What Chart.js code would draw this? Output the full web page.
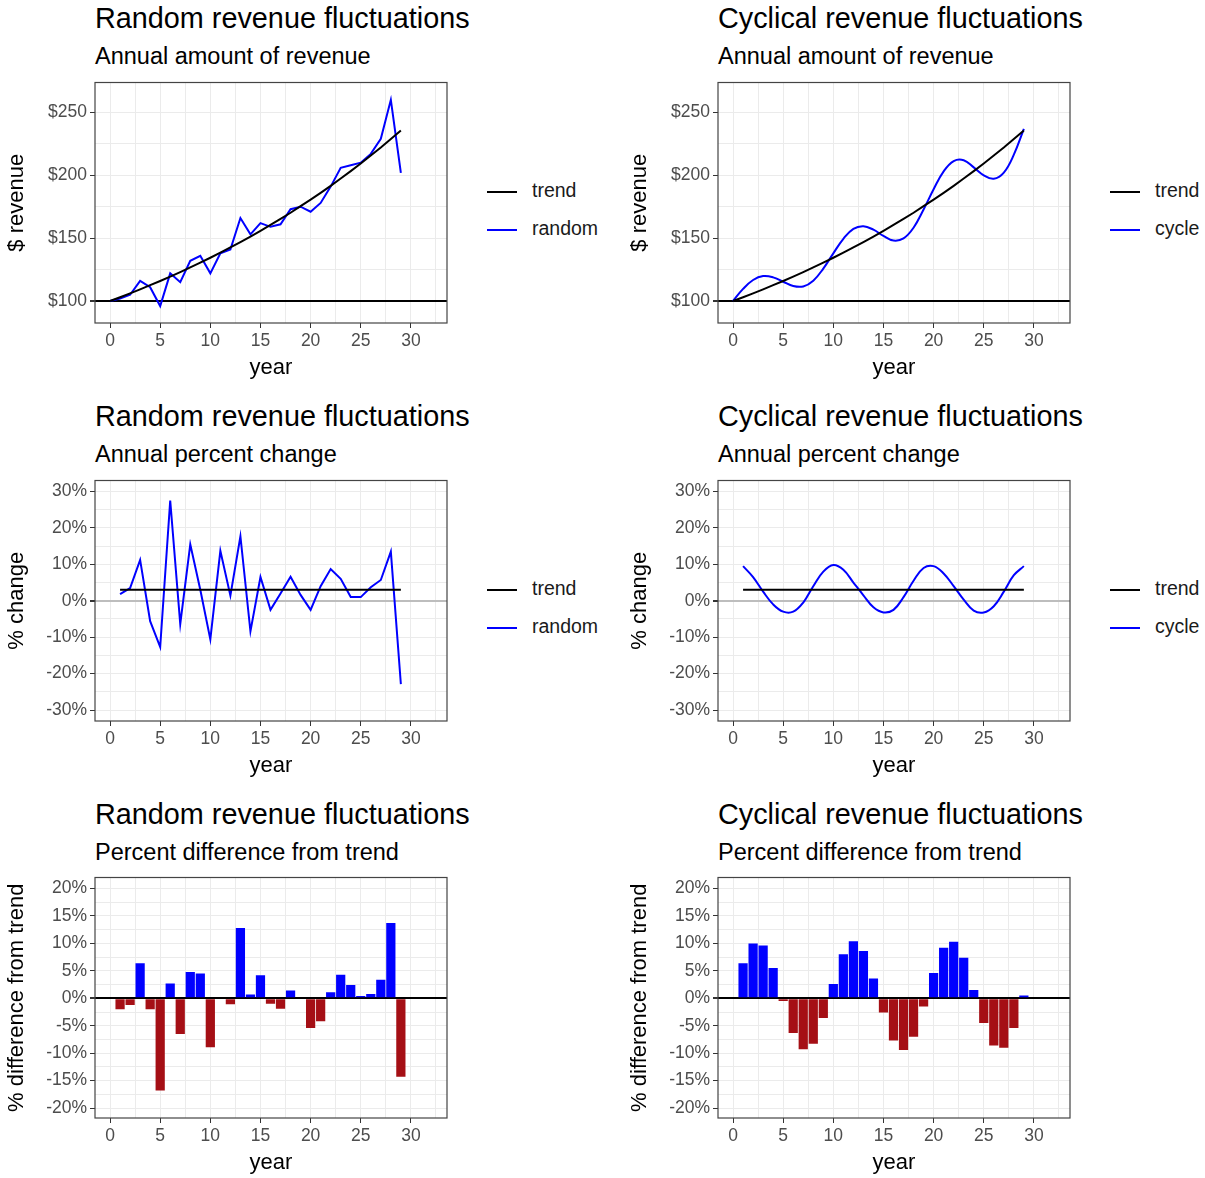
<!DOCTYPE html>
<html>
<head>
<meta charset="utf-8">
<script src="https://cdn.jsdelivr.net/npm/chart.js@4.4.1/dist/chart.umd.min.js"></script>
<style>
  body { margin: 0; background: #fff; font-family: "Liberation Sans", Arial, sans-serif; }
  #page { position: relative; width: 1205px; height: 1178px; }
  .t { position: absolute; font-size: 28.8px; color: #000; white-space: nowrap; }
  .s { position: absolute; font-size: 23.5px; color: #000; white-space: nowrap; }
  .c { position: absolute; }
  .lg { position: absolute; font-size: 19.5px; color: #1a1a1a; white-space: nowrap; }
  .lg span { display: inline-block; width: 30px; height: 2px; vertical-align: middle; margin-right: 15px; }
</style>
</head>
<body>
<div id="page"></div>
<script>
// Datos
let years = [0,1,2,3,4,5,6,7,8,9,10,11,12,13,14,15,16,17,18,19,20,21,22,23,24,25,26,27,28,29];
let trendRev = [100,103,106.1,109.3,112.6,115.9,119.4,123,126.7,130.5,134.4,138.4,142.6,146.9,151.3,155.8,160.5,165.3,170.2,175.4,180.6,186,191.6,197.4,203.3,209.4,215.7,222.1,228.8,235.7];
let randomRev = [100,102,105,116,111,96,122,115,132,136,122,138,141,166,153,162,159,161,173,175,171,178,191,206,208,210,217,229,260,202];
let cycleRev = [100,109.6,116.7,119.8,118.8,115.3,111.9,111.6,116.2,125.8,137.9,149.5,157.4,159.5,156.7,151.8,148.1,149.8,158.3,172.8,188.9,203.1,211.3,212,206.3,200,197.2,202.1,216.4,236.9];

let chgYears = [1,2,3,4,5,6,7,8,9,10,11,12,13,14,15,16,17,18,19,20,21,22,23,24,25,26,27,28,29];
let trendChg = [3,3,3,3,3,3,3,3,3,3,3,3,3,3,3,3,3,3,3,3,3,3,3,3,3,3,3,3,3];
let randomChg = [1.8,3.5,11.2,-5.6,-12.7,27.5,-6.4,15.5,3,-10.6,13.7,1.4,17.7,-8.4,6.5,-2.5,2,6.6,1.6,-2.5,4,8.7,6,1,1,3.7,5.7,13.5,-22.9];
let cycleChg = [9.5,6.5,2.5,-1,-3,-3,-0.5,4,8,9.8,8.5,5,1.5,-1.8,-3.2,-2.5,1,5.5,9,9.5,7.5,4,0.3,-2.7,-3.2,-1.5,2.5,7,9.5];

let randomDiff = [-2,-1.2,6.4,-2,-16.8,2.7,-6.5,4.8,4.5,-8.9,0.2,-1.1,12.8,0.7,4.2,-1,-1.9,1.4,0,-5.4,-4.2,1.1,4.3,2.4,0.4,0.8,3.4,13.7,-14.3];
let cycleDiff = [6.4,10,9.6,5.5,-0.5,-6.3,-9.3,-8.3,-3.6,2.6,8,10.4,8.6,3.6,-2.6,-7.7,-9.4,-7,-1.5,4.6,9.2,10.3,7.4,1.5,-4.5,-8.6,-9,-5.4,0.5];

let xTicks = [0,2.5,5,7.5,10,12.5,15,17.5,20,22.5,25,27.5,30,32.5];
let revTicks = [100,125,150,175,200,225,250];
let chgTicks = [-30,-25,-20,-15,-10,-5,0,5,10,15,20,25,30];
let diffTicks = [-20,-17.5,-15,-12.5,-10,-7.5,-5,-2.5,0,2.5,5,7.5,10,12.5,15,17.5,20];

const page = document.getElementById('page');

function addText(cls, txt, x, y) {
  const d = document.createElement('div');
  d.className = cls; d.textContent = txt;
  d.style.left = x + 'px'; d.style.top = y + 'px';
  page.appendChild(d);
}

function addLegend(x, y, name) {
  const a = document.createElement('div');
  a.className = 'lg'; a.style.left = x + 'px'; a.style.top = y + 'px';
  a.innerHTML = '<span style="background:#000"></span>trend';
  page.appendChild(a);
  const b = document.createElement('div');
  b.className = 'lg'; b.style.left = x + 'px'; b.style.top = (y + 38) + 'px';
  b.innerHTML = '<span style="background:#0000ff"></span>' + name;
  page.appendChild(b);
}

const borde = {
  id: 'borde',
  afterDraw(chart) {
    const a = chart.chartArea, c = chart.ctx;
    c.save(); c.strokeStyle = '#444'; c.lineWidth = 1.2;
    c.strokeRect(a.left, a.top, a.right - a.left, a.bottom - a.top);
    c.restore();
  }
};

function pts(xs, ys) { return xs.map((x, i) => ({ x: x, y: ys[i] })); }

function hacerGrafico(ox, oy, opts) {
  const wrap = document.createElement('div');
  wrap.className = 'c';
  wrap.style.left = ox + 'px'; wrap.style.top = (oy + 69) + 'px';
  wrap.style.width = '450px'; wrap.style.height = '316px';
  page.appendChild(wrap);
  const cv = document.createElement('canvas');
  cv.style.width = '450px'; cv.style.height = '316px';
  cv.width = 450; cv.height = 316;
  wrap.appendChild(cv);

  new Chart(cv.getContext('2d'), {
    type: opts.type,
    data: { datasets: opts.datasets },
    plugins: [borde],
    options: {
      responsive: false, animation: false, devicePixelRatio: 1,
      layout: { padding: { top: 5, right: 3, left: 0, bottom: 0 } },
      plugins: { legend: { display: false }, tooltip: { enabled: false } },
      scales: {
        x: {
          type: 'linear', min: -1.5, max: 33.6, offset: false,
          afterBuildTicks: s => { s.ticks = xTicks.map(v => ({ value: v })); },
          afterFit: s => { s.height = 62; },
          ticks: { color: '#4d4d4d', font: { size: 17.5 }, autoSkip: false, maxRotation: 0,
                   callback: v => (v % 5 === 0 && v <= 30) ? v : '' },
          grid: { offset: false, color: '#ebebeb', lineWidth: 1, tickLength: 5,
                  tickColor: c => (c.tick && c.tick.value % 5 === 0 && c.tick.value <= 30) ? '#333' : 'rgba(0,0,0,0)' },
          border: { display: false },
          title: { display: true, text: 'year', color: '#000', font: { size: 22 }, padding: { top: 0 } }
        },
        y: {
          min: opts.min, max: opts.max,
          afterBuildTicks: s => { s.ticks = opts.ticks.map(v => ({ value: v })); },
          afterFit: s => { s.width = 95; },
          ticks: { color: '#4d4d4d', font: { size: 17.5 }, autoSkip: false, callback: opts.label },
          grid: {
            color: c => (c.tick && c.tick.value === opts.base) ? opts.baseColor : '#ebebeb',
            lineWidth: c => (c.tick && c.tick.value === opts.base) ? 2 : 1,
            tickLength: 5,
            tickColor: c => (c.tick && opts.label(c.tick.value) !== '') ? '#333' : 'rgba(0,0,0,0)'
          },
          border: { display: false },
          title: { display: true, text: opts.ytitle, color: '#000', font: { size: 22 }, padding: { bottom: 0 } }
        }
      }
    }
  });
}

function linea(data, color) {
  return { data: data, borderColor: color, borderWidth: 2, pointRadius: 0, fill: false, tension: 0 };
}

function barras(xs, ys) {
  return {
    data: pts(xs, ys),
    backgroundColor: ys.map(v => v >= 0 ? '#0000ff' : '#a50f15'),
    borderWidth: 0, barPercentage: 0.92, categoryPercentage: 1
  };
}

const money = v => (v % 50 === 0) ? '$' + v : '';
const pct10 = v => (v % 10 === 0) ? v + '%' : '';
const pct5 = v => (v % 5 === 0) ? v + '%' : '';

const cols = [
  { ox: 0, nombre: 'random', titulo: 'Random revenue fluctuations', rev: randomRev, chg: randomChg, diff: randomDiff, smooth: 0 },
  { ox: 623, nombre: 'cycle', titulo: 'Cyclical revenue fluctuations', rev: cycleRev, chg: cycleChg, diff: cycleDiff, smooth: 0.4 }
];

cols.forEach(col => {
  const ox = col.ox;
  // fila 1
  addText('t', col.titulo, ox + 95, 2);
  addText('s', 'Annual amount of revenue', ox + 95, 43);
  const r = linea(pts(years, col.rev), '#0000ff'); r.tension = col.smooth;
  hacerGrafico(ox, 0, {
    type: 'line', min: 82.5, max: 273.8, ticks: revTicks, label: money,
    base: 100, baseColor: '#000', ytitle: '$ revenue',
    datasets: [linea(pts(years, trendRev), '#000'), r]
  });
  addLegend(ox + 487, 179, col.nombre);

  // fila 2
  addText('t', col.titulo, ox + 95, 400);
  addText('s', 'Annual percent change', ox + 95, 441);
  const c2 = linea(pts(chgYears, col.chg), '#0000ff'); c2.tension = col.smooth;
  hacerGrafico(ox, 398, {
    type: 'line', min: -33, max: 33, ticks: chgTicks, label: pct10,
    base: 0, baseColor: '#bdbdbd', ytitle: '% change',
    datasets: [linea(pts(chgYears, trendChg), '#000'), c2]
  });
  addLegend(ox + 487, 577, col.nombre);

  // fila 3
  addText('t', col.titulo, ox + 95, 798);
  addText('s', 'Percent difference from trend', ox + 95, 839);
  hacerGrafico(ox, 795, {
    type: 'bar', min: -21.8, max: 22, ticks: diffTicks, label: pct5,
    base: 0, baseColor: '#000', ytitle: '% difference from trend',
    datasets: [barras(chgYears, col.diff)]
  });
});
</script>
</body>
</html>
